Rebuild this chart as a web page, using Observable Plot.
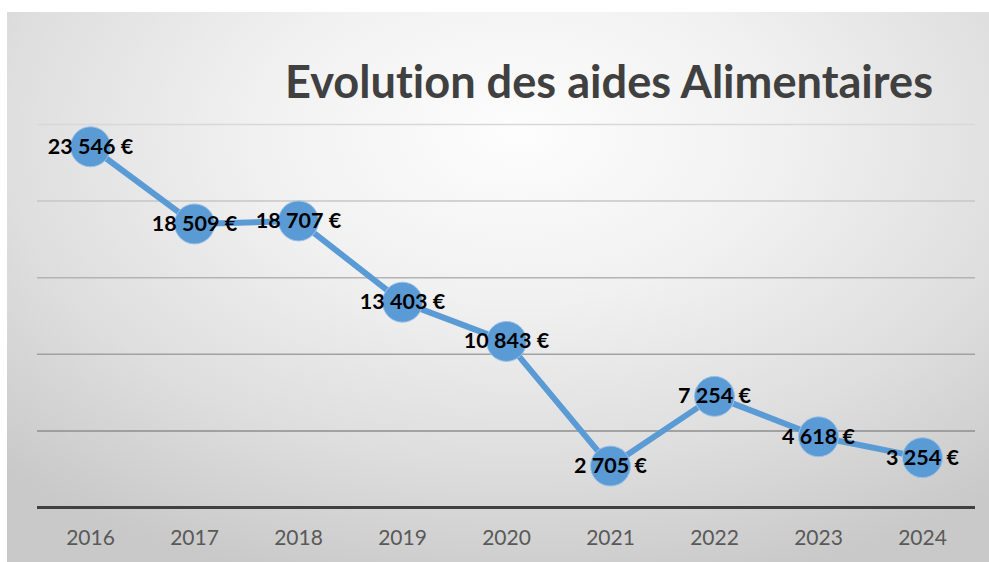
<!DOCTYPE html>
<html><head><meta charset="utf-8">
<script src="https://cdn.jsdelivr.net/npm/d3@7"></script>
<script src="https://cdn.jsdelivr.net/npm/@observablehq/plot@0.6"></script>
<style>
html,body{margin:0;padding:0;background:#fff;width:989px;height:562px;overflow:hidden;position:relative}
#bg{position:absolute;left:7px;top:12px;width:982px;height:550px;
 background:radial-gradient(ellipse 75% 85% at 52% 22%, #fdfdfd 0%, #f1f1f1 35%, #dedede 70%, #c9c9c9 100%);}
#chart{position:absolute;left:0;top:0}
#title{position:absolute;left:285px;top:60px;font-family:Lato,"Open Sans",sans-serif;font-weight:700;color:#404040;white-space:nowrap;font-size:46px;line-height:1;font-variant-ligatures:none;font-feature-settings:"liga" 0;transform-origin:0 0}
svg text{font-variant-ligatures:none}
</style></head><body>
<div id="bg"></div>
<div id="chart"></div>
<div id="title">Evolution des aides Alimentaires</div>
<script>
const years = ["2016","2017","2018","2019","2020","2021","2022","2023","2024"];
const values = [23546,18509,18707,13403,10843,2705,7254,4618,3254];
const gridValues = [5000,10000,15000,20000,25000];

const data = years.map((year, i) => ({year, value: values[i]}));
const fmt = v => d3.format(",")(v).replace(/,/g, " ") + " €";
const gridColor = v => d3.interpolateRgb("#8e8e8e", "#d8d8d8")((v - 5000) / 20000);

const chart = Plot.plot({
  width: 989, height: 562,
  marginLeft: 37, marginRight: 14, marginTop: 124, marginBottom: 55,
  style: {background: "transparent", fontFamily: "Lato, sans-serif", fontSize: "21px", color: "#595959", overflow: "visible"},
  x: {type: "point", domain: years, padding: 0.5, label: null, tickSize: 0, tickPadding: 23},
  y: {domain: [0, 25000], axis: null},
  color: {type: "identity"},
  marks: [
    Plot.ruleY(gridValues, {stroke: d => gridColor(d), strokeWidth: 1.5}),
    Plot.ruleY([0], {stroke: "#404040", strokeWidth: 3}),
    Plot.line(data, {x: "year", y: "value", stroke: "#5b9bd5", strokeWidth: 6}),
    Plot.dot(data, {x: "year", y: "value", r: 20, fill: "#5b9bd5", stroke: "#9cc2e8", strokeWidth: 1}),
    Plot.text(data, {x: "year", y: "value", text: d => fmt(d.value), fontSize: 21.5, fontWeight: "bold", fill: "#000"})
  ]
});
document.getElementById("chart").append(chart);

const t = document.getElementById("title");
const fs = 46;
const w = t.getBoundingClientRect().width;
t.style.transform = "scaleX(" + (648 / w) + ")";
t.style.top = (99 - 0.887 * fs) + "px";
</script>
</body></html>
